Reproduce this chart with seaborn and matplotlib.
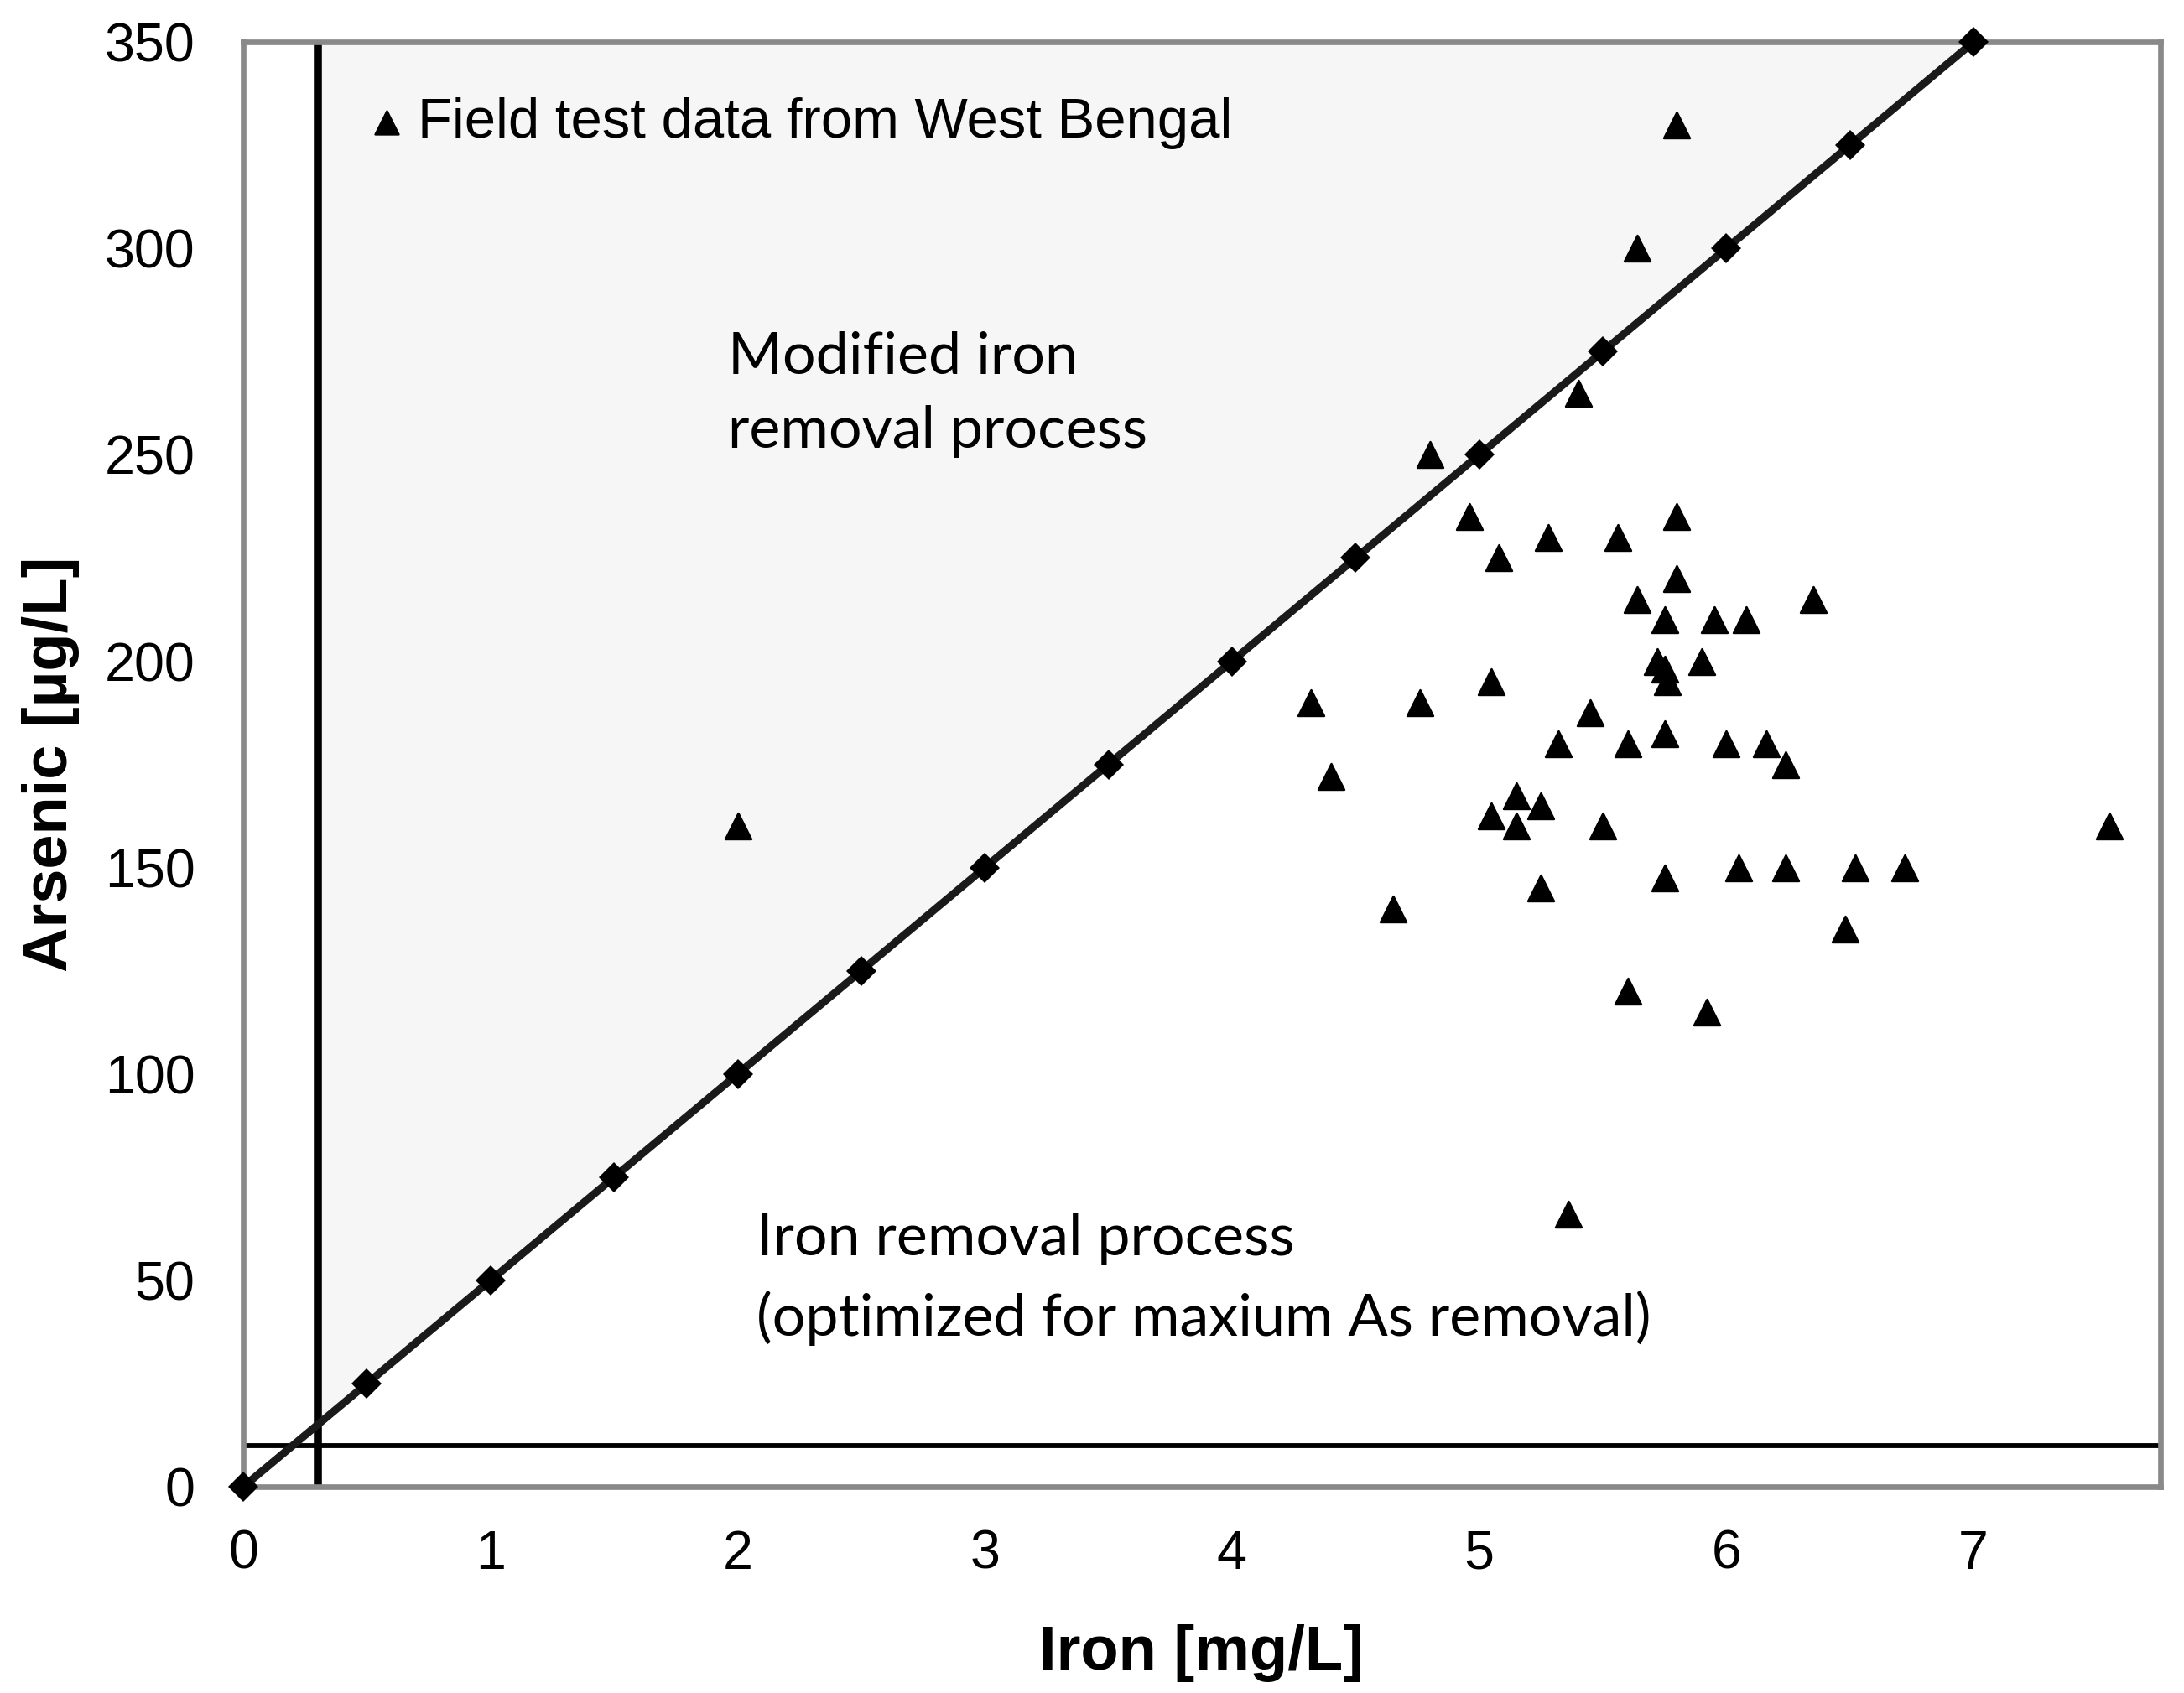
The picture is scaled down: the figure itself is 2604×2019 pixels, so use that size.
import numpy as np
import pandas as pd
import matplotlib
matplotlib.use('Agg')
import matplotlib.pyplot as plt
import seaborn as sns

sns.set_style('white')
plt.rcParams['font.family'] = ['Liberation Sans', 'DejaVu Sans']
plt.rcParams['text.color'] = 'black'
plt.rcParams['axes.labelcolor'] = 'black'

# field test data from West Bengal (iron mg/L, arsenic ug/L)
iron = [2.00, 4.32, 4.40, 4.65, 4.76, 4.80, 4.96, 5.05, 5.05, 5.08,
        5.15, 5.15, 5.25, 5.25, 5.28, 5.32, 5.36, 5.40, 5.45, 5.50,
        5.56, 5.60, 5.60, 5.64, 5.64, 5.72, 5.75, 5.75, 5.76, 5.75,
        5.75, 5.80, 5.80, 5.80, 5.90, 5.92, 5.95, 6.00, 6.05, 6.08,
        6.16, 6.24, 6.24, 6.35, 6.48, 6.52, 6.72, 7.55]
arsenic = [160, 190, 172, 140, 190, 250, 235, 195, 162.5, 225,
           167.5, 160, 165, 145, 230, 180, 66, 265, 187.5, 160,
           230, 180, 120, 215, 300, 200, 210, 198, 195, 182.5,
           147.5, 235, 220, 330, 200, 115, 210, 180, 150, 210,
           180, 175, 150, 215, 135, 150, 150, 160]

# As/Fe = 50 boundary line
line_fe = [0, 0.5, 1, 1.5, 2, 2.5, 3, 3.5, 4, 4.5, 5, 5.5, 6, 6.5, 7]
line_as = [0, 25, 50, 75, 100, 125, 150, 175, 200, 225, 250, 275, 300, 325, 350]

# shaded "modified process" region and limit lines
shade_fe = [0.3, 7.0]
shade_as_low = [15, 350]
shade_as_high = [350, 350]
fe_limit = 0.3
as_limit = 10

x_ticks = [0, 1, 2, 3, 4, 5, 6, 7]
y_ticks = [0, 50, 100, 150, 200, 250, 300, 350]

df = pd.DataFrame({'Iron': iron, 'Arsenic': arsenic})
line_df = pd.DataFrame({'Iron': line_fe, 'Arsenic': line_as})

grey = '#898989'

fig = plt.figure(figsize=(8.68, 6.73), dpi=300)
ax = fig.add_axes([0.1114, 0.1218, 0.9891 - 0.1114, 0.9752 - 0.1218])

ax.fill_between(shade_fe, shade_as_low, shade_as_high, color='#f6f6f6', lw=0, zorder=0)
ax.axhline(as_limit, color='black', lw=1.4, zorder=2)
ax.axvline(fe_limit, color='black', lw=2.3, zorder=2)

sns.lineplot(data=line_df, x='Iron', y='Arsenic', ax=ax, color='#1a1a1a', lw=2.2,
             marker='D', markersize=6.2, markeredgewidth=0, markerfacecolor='black',
             clip_on=False, zorder=3)
sns.scatterplot(data=df, x='Iron', y='Arsenic', ax=ax, marker='^', s=55, color='black',
                edgecolor='black', linewidth=0.6, label='Field test data from West Bengal',
                clip_on=False, zorder=4, legend=False)

ax.set_xlim(0, 7.755)
ax.set_ylim(0, 350)
ax.set_xticks(x_ticks)
ax.set_yticks(y_ticks)

for s in ax.spines.values():
    s.set_color(grey)
    s.set_linewidth(1.6)
ax.tick_params(axis='both', which='major', direction='out', length=4.8, width=1.6,
               color=grey, labelsize=15.5, labelcolor='black')
ax.tick_params(axis='x', pad=7.4)
ax.tick_params(axis='y', pad=9)

ax.set_xlabel('Iron [mg/L]', fontsize=17.8, fontweight='bold', va='center')
ax.set_ylabel('Arsenic [µg/L]', fontsize=17.8, fontweight='bold', va='center')
ax.xaxis.set_label_coords(0.5, -0.115)
ax.yaxis.set_label_coords(-0.1004, 0.5)

handles = [h for h in ax.collections if h.get_label() == 'Field test data from West Bengal']
leg = ax.legend(handles=handles, loc='center left', bbox_to_anchor=(0.066, 0.944),
                frameon=False, fontsize=16.1, handlelength=0.6, handletextpad=0.25,
                borderpad=0, borderaxespad=0, markerscale=0.9, labelcolor='black')

ax.text(0.2529, 0.7191, 'Modified iron\nremoval process', transform=ax.transAxes,
        fontsize=16.8, family='Lato', va='baseline', ha='left', linespacing=1.5)
ax.text(0.2678, 0.1045, 'Iron removal process\n(optimized for maxium As removal)',
        transform=ax.transAxes, fontsize=16.8, family='Lato', va='baseline', ha='left',
        linespacing=1.55)

fig.savefig('out.png', dpi=300)
